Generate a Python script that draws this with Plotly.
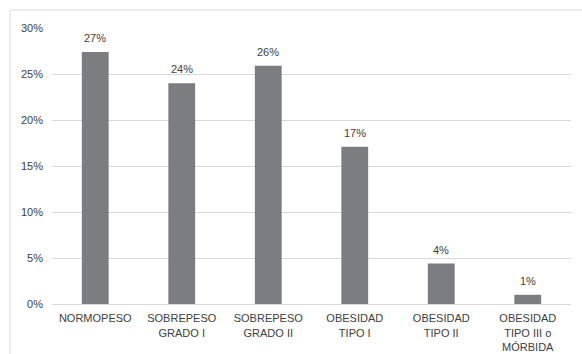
import plotly.graph_objects as go

categories = [
    "NORMOPESO",
    "SOBREPESO<br>GRADO I",
    "SOBREPESO<br>GRADO II",
    "OBESIDAD<br>TIPO I",
    "OBESIDAD<br>TIPO II",
    "OBESIDAD<br>TIPO III o<br>MÓRBIDA",
]
shares = [0.274, 0.240, 0.259, 0.171, 0.044, 0.010]
y_ticks = [0, 0.05, 0.10, 0.15, 0.20, 0.25, 0.30]
y_tick_labels = ["0%", "5%", "10%", "15%", "20%", "25%", "30%"]

W, H = 582, 354
ML, MR, MT, MB = 52, 11, 28, 50
pw, ph = W - ML - MR, H - MT - MB

FAMILY = "Liberation Sans, Arial, sans-serif"
TXT = "#404040"

fig = go.Figure(
    go.Bar(
        x=categories,
        y=shares,
        width=0.31,
        marker=dict(color="#7c7d81", line=dict(width=0)),
        hoverinfo="x+y",
    )
)

# value labels above each bar
for cat, v in zip(categories, shares):
    fig.add_annotation(
        x=cat, y=v, xref="x", yref="y",
        text=f"{v:.0%}",
        showarrow=False,
        yanchor="bottom",
        yshift=6,
        font=dict(family=FAMILY, size=11, color=TXT),
    )

# outer chart frame
fig.add_shape(
    type="rect",
    xref="paper", yref="paper",
    x0=(10 - ML) / pw, x1=(W + 5 - ML) / pw,
    y0=-(MB + 5) / ph, y1=(ph + MT - 10) / ph,
    line=dict(color="#d9d9d9", width=1),
    fillcolor="rgba(0,0,0,0)",
    layer="below",
)

fig.update_layout(
    width=W, height=H,
    margin=dict(l=ML, r=MR, t=MT, b=MB, autoexpand=False),
    paper_bgcolor="white",
    plot_bgcolor="white",
    font=dict(family=FAMILY, size=11, color=TXT),
    showlegend=False,
    xaxis=dict(
        automargin=False,
        showgrid=False,
        showline=True,
        linecolor="#d9d9d9",
        linewidth=1,
        ticks="",
        ticklabelstandoff=4,
        tickfont=dict(family=FAMILY, size=11, color=TXT),
    ),
    yaxis=dict(
        automargin=False,
        range=[0, 0.30],
        tickvals=y_ticks,
        ticktext=y_tick_labels,
        showgrid=True,
        gridcolor="#d9d9d9",
        gridwidth=1,
        zeroline=False,
        showline=False,
        ticks="",
        ticklabelstandoff=8,
        tickfont=dict(family=FAMILY, size=11, color=TXT),
    ),
)

fig.write_html("out.html")
